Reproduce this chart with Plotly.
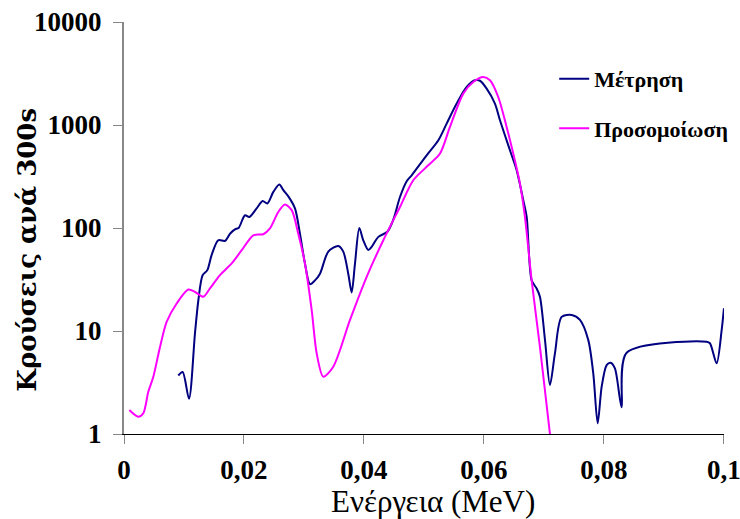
import plotly.graph_objects as go

# Measurement (Μέτρηση)
energy_meas = [0.00905, 0.00978, 0.01083, 0.01183, 0.0124, 0.0131, 0.01389, 0.0146, 0.0157, 0.01683,
               0.01767, 0.0185, 0.0191, 0.02017, 0.02089, 0.0221, 0.02311, 0.02389, 0.02489, 0.02589,
               0.02656, 0.02739, 0.0285, 0.02933, 0.03017, 0.031, 0.03183, 0.03267, 0.03405, 0.03572,
               0.03655, 0.03738, 0.03795, 0.0385, 0.03922, 0.03988, 0.04072, 0.04128, 0.0424, 0.0439,
               0.0449, 0.046, 0.04712, 0.04795, 0.05045, 0.0524, 0.05378, 0.05545, 0.05712, 0.0585,
               0.05933, 0.06045, 0.06183, 0.06267, 0.06433, 0.06545, 0.06655, 0.06712, 0.06795, 0.06878,
               0.06933, 0.07017, 0.071, 0.07183, 0.07295, 0.07462, 0.076, 0.07738, 0.07822, 0.07895,
               0.07962, 0.08045, 0.08111, 0.08183, 0.08295, 0.08378, 0.09712, 0.09767, 0.09878, 0.09962,
               0.1]
counts_meas = [3.7, 4.0, 2.2, 9.5, 20, 34.8, 39, 54.5, 76, 75,
               88, 97, 100, 133, 128, 155, 183, 173, 224, 264,
               233, 203, 155, 88, 45, 28.5, 31, 36, 59, 67,
               59, 36, 23.7, 45, 100, 76, 61, 65.6, 82, 92,
               121, 200, 285, 325, 508, 711, 1031, 1614, 2337, 2715,
               2690, 2254, 1614, 1111, 569, 364, 186, 128, 31, 25.9,
               21.5, 8.2, 2.99, 6.06, 13.7, 14.3, 12.8, 8.2, 3.88, 1.27,
               2.88, 4.67, 4.92, 4.33, 1.82, 6.15, 7.86, 7.6, 4.85, 10.2,
               16.6]

# Simulation (Προσομοίωση)
energy_sim = [0.00089, 0.00239, 0.00322, 0.00405, 0.00489, 0.006, 0.00712, 0.00878, 0.01072, 0.01183,
              0.01322, 0.01433, 0.016, 0.01795, 0.01962, 0.02156, 0.02322, 0.02433, 0.02572, 0.02683,
              0.02795, 0.02905, 0.03017, 0.03128, 0.03212, 0.03322, 0.03488, 0.03767, 0.04045, 0.04322,
              0.046, 0.04822, 0.05072, 0.05267, 0.05433, 0.05655, 0.05822, 0.05988, 0.061, 0.06238,
              0.06378, 0.06488, 0.066, 0.06683, 0.06795, 0.06933, 0.071]
counts_sim = [1.71, 1.47, 1.59, 2.57, 3.6, 7.0, 12.3, 18.5, 25.3, 24,
              21.5, 25.9, 34.9, 45.3, 60.9, 85, 87, 99, 143, 169,
              149, 88, 45, 16, 6.06, 3.6, 4.5, 12.8, 33.6, 76,
              160, 291, 406, 528, 957, 2016, 2613, 2923, 2715, 1870,
              957, 528, 270, 128, 31, 7.0, 1.0]

x_tickvals = [0, 0.02, 0.04, 0.06, 0.08, 0.1]
x_ticktext = ["0", "0,02", "0,04", "0,06", "0,08", "0,1"]
y_tickvals = [1, 10, 100, 1000, 10000]
y_ticktext = ["1", "10", "100", "1000", "10000"]

SERIF = "Liberation Serif"

fig = go.Figure()
fig.add_trace(go.Scatter(
    x=energy_meas, y=counts_meas, mode="lines", name="Μέτρηση",
    line=dict(color="#000080", width=2, shape="spline", smoothing=0.8),
    legendgroup="a"))
fig.add_trace(go.Scatter(
    x=energy_sim, y=counts_sim, mode="lines", name="Προσομοίωση",
    line=dict(color="#FF00FF", width=2, shape="spline", smoothing=0.8),
    legendgroup="b"))

fig.update_layout(
    width=740, height=519,
    margin=dict(l=124, r=16, t=22, b=85, autoexpand=False),
    paper_bgcolor="white", plot_bgcolor="white",
    showlegend=True,
    legend=dict(x=0.717, y=0.913, xanchor="left", yanchor="top",
                font=dict(family=SERIF, size=22, color="black", weight="bold"),
                tracegroupgap=18, bgcolor="rgba(0,0,0,0)"),
    xaxis=dict(range=[0, 0.10001], tickvals=x_tickvals, ticktext=x_ticktext, automargin=False,
               ticklabeloverflow="allow",
               showgrid=False, zeroline=False, showline=True, linecolor="black", linewidth=1,
               ticks="outside", ticklen=9, tickcolor="#888888", tickwidth=1, ticklabelstandoff=3,
               tickfont=dict(family=SERIF, size=27, color="black", weight="bold")),
    yaxis=dict(type="log", range=[0, 4], tickvals=y_tickvals, ticktext=y_ticktext, automargin=False,
               ticklabeloverflow="allow",
               showgrid=False, zeroline=False, showline=True, linecolor="#888888", linewidth=2,
               ticks="outside", ticklen=9, tickcolor="#888888", tickwidth=1, ticklabelstandoff=6,
               tickfont=dict(family=SERIF, size=27, color="black", weight="bold")),
    annotations=[
        dict(text="Ενέργεια (MeV)", xref="paper", yref="paper", x=0.515, y=-0.163,
             xanchor="center", yanchor="middle", showarrow=False,
             font=dict(family=SERIF, size=31, color="black")),
        dict(text="Κρούσεις ανά 300s", xref="paper", yref="paper", x=-0.162, y=0.447,
             xanchor="center", yanchor="middle", showarrow=False, textangle=-90,
             font=dict(family="DejaVu Serif", size=26, color="black", weight="bold")),
    ],
)

fig.write_html("out.html")
